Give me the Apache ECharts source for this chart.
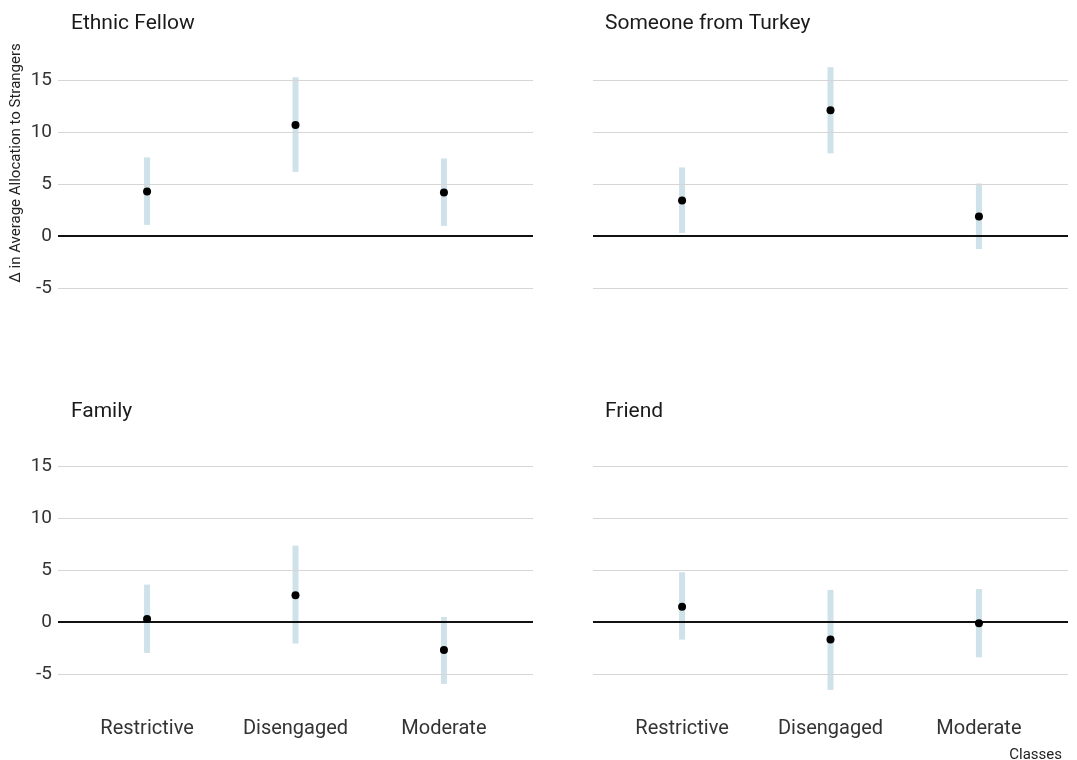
<!DOCTYPE html>
<html>
<head>
    <meta charset="utf-8">
    <title>Allocation to strangers</title>
    <script src="https://cdn.jsdelivr.net/npm/echarts@6/dist/echarts.min.js"></script>
    <style>
        body { margin: 0; background: #fff; }
        #main { width: 1077px; height: 760px; }
    </style>
</head>
<body>
<div id="main"></div>
<script type="text/javascript">
    // categories (x) and panels
    var classes = ['Restrictive', 'Disengaged', 'Moderate'];
    var panels = ['Ethnic Fellow', 'Someone from Turkey', 'Family', 'Friend'];
    var yTicks = [-5, 0, 5, 10, 15];

    // point estimates per panel, in order of classes
    var estEthnic = [4.27, 10.67, 4.18];
    var estTurkey = [3.40, 12.08, 1.86];
    var estFamily = [0.29, 2.56, -2.69];
    var estFriend = [1.47, -1.70, -0.13];

    // confidence interval lows / highs
    var lowEthnic = [1.06, 6.16, 0.96];
    var highEthnic = [7.55, 15.26, 7.45];
    var lowTurkey = [0.29, 7.94, -1.26];
    var highTurkey = [6.59, 16.23, 5.04];
    var lowFamily = [-2.98, -2.08, -5.96];
    var highFamily = [3.59, 7.34, 0.48];
    var lowFriend = [-1.70, -6.54, -3.40];
    var highFriend = [4.78, 3.08, 3.17];

    var est = [estEthnic, estTurkey, estFamily, estFriend];
    var low = [lowEthnic, lowTurkey, lowFamily, lowFriend];
    var high = [highEthnic, highTurkey, highFamily, highFriend];

    var font = "'Roboto', sans-serif";
    var myChart = echarts.init(document.getElementById('main'));

    var lefts = [58, 593, 58, 593];
    var tops = [55, 55, 441, 441];

    var grids = [], xAxes = [], yAxes = [], series = [], titles = [];
    for (var p = 0; p < 4; p++) {
        var isLeft = (p % 2 == 0);
        var isBottom = (p >= 2);
        grids.push({left: lefts[p], top: tops[p], width: 475, height: 261});
        xAxes.push({
            type: 'value', gridIndex: p, min: 0.4, max: 3.6,
            axisLine: {show: false}, axisTick: {show: false}, splitLine: {show: false},
            axisLabel: {
                show: isBottom, customValues: [1, 2, 3], margin: 17,
                fontFamily: font, fontSize: 20, color: '#333',
                formatter: function (v) { return classes[Math.round(v) - 1]; }
            }
        });
        yAxes.push({
            type: 'value', gridIndex: p, min: -7.7, max: 17.4,
            axisLine: {show: false}, axisTick: {show: false}, splitLine: {show: false},
            axisLabel: {
                show: isLeft, customValues: yTicks, margin: 6,
                fontFamily: font, fontSize: 19, color: '#333'
            }
        });
        titles.push({
            text: panels[p], left: isLeft ? 66 : 600, top: isBottom ? 396 : 8,
            textStyle: {fontFamily: font, fontSize: 21, fontWeight: 'normal', color: '#1a1a1a'}
        });

        var barData = [], ptData = [];
        for (var i = 0; i < classes.length; i++) {
            barData.push([i + 1, low[p][i], high[p][i]]);
            ptData.push([i + 1, est[p][i]]);
        }
        var gridLines = yTicks.map(function (t) {
            return {yAxis: t, lineStyle: t == 0
                ? {color: '#111', width: 2, type: 'solid'}
                : {color: '#d6d6d6', width: 1.2, type: 'solid'}};
        });
        series.push({
            type: 'custom', xAxisIndex: p, yAxisIndex: p, silent: true, z: 2,
            data: barData,
            renderItem: function (params, api) {
                var top = api.coord([api.value(0), api.value(2)]);
                var bot = api.coord([api.value(0), api.value(1)]);
                return {
                    type: 'rect',
                    shape: {x: top[0] - 3, y: top[1], width: 6, height: bot[1] - top[1]},
                    style: {fill: '#cfe2ea'}
                };
            },
            markLine: {
                silent: true, symbol: 'none', label: {show: false},
                animation: false, data: gridLines
            }
        });
        series.push({
            type: 'scatter', xAxisIndex: p, yAxisIndex: p, z: 5,
            symbolSize: 8, itemStyle: {color: '#000', opacity: 1},
            data: ptData
        });
    }
    titles.push({
        text: 'Classes', right: 10, top: 743,
        textStyle: {fontFamily: font, fontSize: 15, fontWeight: 'normal', color: '#222'}
    });

    var option = {
        backgroundColor: '#fff',
        animation: false,
        title: titles,
        grid: grids,
        xAxis: xAxes,
        yAxis: yAxes,
        series: series,
        graphic: [{
            type: 'text', x: 16, y: 163, rotation: Math.PI / 2,
            style: {
                text: 'Δ in Average Allocation to Strangers',
                fontFamily: font, fontSize: 15, fill: '#222',
                align: 'center', verticalAlign: 'middle'
            }
        }]
    };
    myChart.setOption(option);
</script>
</body>
</html>
